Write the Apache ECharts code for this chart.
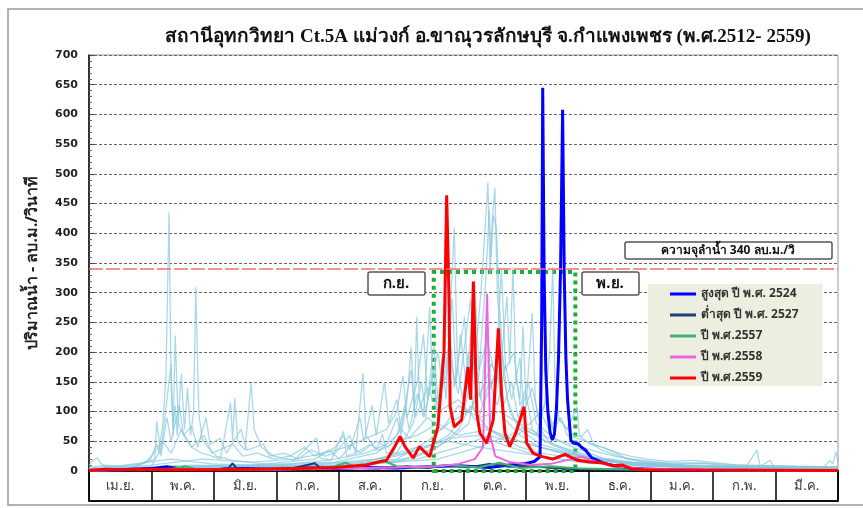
<!DOCTYPE html>
<html>
<head>
<meta charset="utf-8">
<script src="https://cdn.jsdelivr.net/npm/echarts@6.0.0/dist/echarts.min.js"></script>
<style>
  html, body { margin: 0; padding: 0; background: #fff; }
  #main { width: 863px; height: 508px; }
</style>
</head>
<body>
<div id="main"></div>
<script>
// ชื่อเดือน (ปีน้ำ เม.ย. - มี.ค.)
const months = ['เม.ย.', 'พ.ค.', 'มิ.ย.', 'ก.ค.', 'ส.ค.', 'ก.ย.', 'ต.ค.', 'พ.ย.', 'ธ.ค.', 'ม.ค.', 'ก.พ.', 'มี.ค.'];
const yMin = 0, yMax = 700, yStep = 50;
const capacity = 340;
const floodWindow = [168, 237, 335]; // วัน เริ่ม, วัน สิ้นสุด, ระดับบน

const seriesNames = ['สูงสุด ปี พ.ศ. 2524', 'ต่ำสุด ปี พ.ศ. 2527', 'ปี พ.ศ.2557', 'ปี พ.ศ.2558', 'ปี พ.ศ.2559'];

// [วันที่นับจาก 1 เม.ย., ลบ.ม./วินาที]
const max2524 = [[0,1],[15,2],[30,4],[38,7],[45,3],[60,2],[75,4],[90,3],[105,5],[120,4],[135,6],[150,5],[165,7],[180,9],[195,6],[205,10],[212,12],[217,16],[219.8,24],[220.6,250],[221.1,645],[221.8,330],[222.6,170],[223.6,100],[224.7,65],[225.8,52],[226.8,62],[227.8,105],[228.8,190],[229.8,340],[230.8,608],[231.6,330],[232.4,190],[233.2,120],[234,86],[234.8,52],[236,47],[238.3,46],[240,40],[242,35],[245,22],[251,13],[258,7],[266,4],[280,2],[300,1],[330,1],[365,1]];
const min2527 = [[0,1],[10,2],[25,1],[35,3],[42,6],[48,3],[60,2],[68,5],[70,13],[72,4],[85,3],[100,5],[110,13],[113,4],[125,6],[140,4],[155,8],[165,5],[175,10],[185,6],[195,12],[205,7],[215,9],[225,5],[240,3],[260,2],[300,1],[365,1]];
const y2557 = [[0,1],[20,2],[40,3],[47,8],[52,3],[70,2],[90,4],[110,3],[120,8],[125,14],[130,6],[143,18],[150,8],[160,5],[175,10],[190,6],[200,14],[210,5],[225,8],[240,4],[260,3],[290,2],[320,1],[365,1]];
const y2558 = [[0,1],[30,2],[60,3],[90,2],[120,4],[150,6],[170,8],[180,12],[188,20],[192,40],[194,298],[195.5,60],[198,25],[205,15],[215,10],[225,12],[235,20],[240,24],[245,18],[255,8],[270,4],[300,2],[365,1]];
const y2559 = [[0,1],[8,3],[15,2],[25,3],[40,2],[60,2],[80,3],[100,4],[120,6],[135,10],[145,18],[149,41],[151.6,58],[154,41],[158,22],[161,41],[166,24],[170,74],[173,200],[174.3,464],[175.4,300],[176,108],[178,74],[181.6,86],[184.7,175],[186,120],[187.3,319],[189,97],[190.5,64],[193.8,47],[197,86],[199.5,240],[201,131],[202.7,64],[205,41],[208,64],[212,108],[213.3,47],[216.4,30],[220,25],[226,20],[232,28],[238,18],[244,15],[250,14],[255,9],[260,10],[264,4],[270,2],[365,1]];

// ปีอื่น ๆ (พ.ศ.2512 - 2556)
const otherYears = [
  [[0,4],[15,3],[30,6],[34,30],[36,80],[37.5,160],[39,435],[40,150],[41,70],[42,110],[43,60],[45,163],[46.5,70],[48,140],[49.5,60],[51,100],[52,309],[53.5,100],[55,55],[58,40],[62,25],[70,18],[85,12],[100,10],[120,14],[140,20],[160,35],[175,55],[190,60],[205,40],[220,25],[240,14],[270,8],[300,5],[365,4]],
  [[0,10],[2,18],[4,22],[6,12],[9,5],[20,4],[32,20],[33,84],[35,30],[40,180],[41,60],[42,228],[43.5,80],[47,55],[50,40],[55,30],[60,25],[64,20],[69,115],[70,50],[71,123],[72.5,50],[76,35],[79,148],[80.5,70],[84,40],[90,25],[100,18],[111,56],[112.5,22],[118,18],[124,67],[125.5,25],[130,30],[133.5,165],[135,60],[140,35],[143,62],[145,30],[150,30],[160,40],[175,50],[190,40],[210,30],[230,20],[250,12],[280,8],[320,6],[365,5]],
  [[0,2],[40,20],[60,12],[90,8],[120,20],[135,30],[145,45],[150,90],[152,60],[155,120],[157,209],[158.5,100],[159.7,260],[161,120],[163,90],[166,276],[167.5,140],[170,110],[172,190],[174,120],[178,411],[179.5,180],[182,120],[185,200],[187,110],[190,90],[195,70],[200,60],[210,40],[220,30],[240,20],[270,10],[300,6],[365,4]],
  [[0,3],[50,10],[100,8],[130,15],[150,25],[165,40],[175,60],[182,90],[186,150],[189,220],[191,300],[192.5,380],[194.4,486],[195.5,330],[196.5,420],[197.8,476],[199,300],[200,250],[202,180],[204,120],[207,90],[212,70],[218,60],[225,45],[232,35],[240,25],[250,18],[265,10],[290,6],[320,4],[365,3]],
  [[0,2],[60,8],[120,10],[150,20],[165,50],[175,80],[185,100],[192,140],[196,180],[200,150],[203.7,293],[205,180],[206.6,343],[208,160],[210,120],[211.5,243],[213,110],[216,266],[217.5,120],[220,70],[224,50],[230,40],[240,30],[255,15],[280,8],[320,5],[365,3]],
  [[0,3],[60,6],[120,8],[160,20],[180,40],[195,60],[205,50],[212,70],[218,60],[222,110],[224.5,200],[226,343],[227,150],[229,90],[233,70],[237.8,108],[239,60],[244,45],[250,40],[257,30],[262,20],[270,15],[285,12],[300,13],[308,10],[320,6],[325.5,35],[327,8],[332,18],[334,6],[345,4],[358,6],[361,18],[362.5,12],[364,32],[365,15]],
  [[0,2],[70,5],[130,10],[150,30],[158,80],[162,150],[164,100],[168,170],[170,90],[176,230],[178,140],[183,260],[185,130],[188,200],[191,120],[194,250],[196,140],[200,200],[202,110],[206,150],[209,90],[213,130],[216,70],[222,50],[230,40],[245,20],[270,10],[320,5],[365,3]],
  [[0,2],[90,5],[140,12],[160,25],[175,50],[185,80],[190,160],[192,260],[193.5,330],[195,440],[196,360],[197,430],[198.5,410],[200,280],[202,160],[205,100],[210,70],[220,45],[235,30],[250,20],[275,10],[320,6],[365,3]],
  [[0,3],[30,10],[55,20],[80,15],[100,20],[115,30],[125,40],[135,55],[145,70],[150,100],[153,160],[155,90],[160,150],[163,230],[165,120],[170,200],[172,150],[175,330],[176.5,180],[180,130],[186,290],[188,150],[192,110],[199,170],[202,90],[210,60],[220,40],[240,25],[265,14],[300,8],[340,6],[365,5]],
  [[0,5],[10,8],[20,6],[28,15],[36,50],[40,30],[45,70],[50,40],[56,60],[60,30],[70,45],[75,25],[82,30],[90,20],[98,25],[105,40],[110,25],[117,35],[122,20],[128,45],[132,30],[140,50],[146,40],[152,70],[156,55],[165,90],[172,70],[180,110],[190,90],[200,100],[210,80],[220,60],[230,50],[240,40],[250,30],[260,22],[280,14],[300,13],[320,10],[340,8],[365,7]],
  [[0,3],[60,8],[120,15],[140,30],[150,60],[154,110],[156,70],[160,130],[164,90],[168,210],[170,120],[174,160],[177,290],[179,150],[181,230],[184,140],[188,320],[190,170],[194,220],[198,160],[201,340],[203,170],[207,200],[210,110],[214,150],[218,80],[225,60],[232,45],[240,35],[250,22],[270,12],[300,8],[365,5]],
  [[0,2],[100,6],[150,15],[170,40],[180,70],[186,110],[190,90],[195,150],[199,110],[203,180],[206,120],[210,190],[212,100],[216,140],[219,90],[223,120],[226,70],[230,90],[233,60],[238,55],[244,48],[250,35],[258,25],[270,16],[290,10],[320,7],[365,5]],
  [[0,6],[8,10],[15,8],[25,12],[30,20],[33,45],[35,25],[38,90],[40,50],[44,110],[46,60],[50,75],[53,40],[57,90],[59,45],[64,55],[67,30],[74,70],[77,35],[85,45],[88,25],[95,30],[102,20],[108,35],[115,25],[120,30],[127,60],[130,30],[137,45],[142,35],[150,50],[160,60],[170,80],[180,60],[195,70],[210,50],[225,35],[240,25],[260,15],[290,10],[330,8],[365,6]],
  [[0,2],[80,10],[110,20],[120,40],[124,60],[127,35],[132,90],[134,50],[138,110],[140,60],[144,150],[146,80],[150,120],[152,70],[157,170],[159,90],[165,140],[170,100],[180,120],[190,80],[200,60],[215,45],[230,30],[250,18],[280,10],[320,6],[365,4]],
  [[0,3],[120,8],[170,20],[190,40],[205,60],[215,80],[220,100],[224,70],[228,90],[232,75],[236,60],[240,58],[243,70],[246,45],[252,38],[258,30],[264,25],[272,20],[282,16],[295,18],[305,14],[315,10],[330,9],[345,8],[365,7]]
];

const thai = '"Noto Sans", "DejaVu Sans", sans-serif';
const chart = echarts.init(document.getElementById('main'));

let series = otherYears.map(function (d) {
  return {
    type: 'line', data: d, symbol: 'none', silent: true, z: 1,
    lineStyle: { color: 'rgba(135,200,222,0.7)', width: 1.3 }
  };
});

const named = [
  { data: max2524, color: '#0000ff', width: 3 },
  { data: min2527, color: '#1f3b7a', width: 2 },
  { data: y2557, color: '#3cb46e', width: 2 },
  { data: y2558, color: '#ee66dd', width: 2 },
  { data: y2559, color: '#ff0000', width: 3 }
];
named.forEach(function (s, i) {
  series.push({
    name: seriesNames[i], type: 'line', data: s.data, symbol: 'none', z: 3,
    lineStyle: { color: s.color, width: s.width }, itemStyle: { color: s.color }
  });
});

// เส้นความจุลำน้ำ + กรอบช่วงน้ำหลาก
series.push({
  type: 'line', data: [], z: 4, silent: true,
  markLine: {
    symbol: 'none', silent: true, label: { show: false },
    lineStyle: { color: '#f07070', width: 1.5, type: [14, 3] },
    data: [{ yAxis: capacity }]
  },
  markArea: {
    silent: true,
    itemStyle: { color: 'rgba(0,0,0,0)', borderColor: '#1fae3c', borderWidth: 4, borderType: [4, 4] },
    data: [[{ xAxis: floodWindow[0], yAxis: 0 }, { xAxis: floodWindow[1], yAxis: floodWindow[2] }]]
  }
});

chart.setOption({
  backgroundColor: '#fff',
  animation: false,
  title: {
    text: 'สถานีอุทกวิทยา Ct.5A แม่วงก์ อ.ขาณุวรลักษบุรี จ.กำแพงเพชร (พ.ศ.2512- 2559)',
    left: 483, top: 23, textAlign: 'center',
    textStyle: { fontFamily: '"Liberation Serif", "DejaVu Serif", serif', fontWeight: 'bold', fontSize: 19, color: '#111' }
  },
  legend: {
    data: seriesNames, orient: 'vertical', left: 648, top: 284,
    backgroundColor: '#eceedf', padding: [3, 24, 1, 22],
    icon: 'rect', itemWidth: 26, itemHeight: 3, itemGap: 7,
    textStyle: { fontFamily: thai, fontSize: 12, lineHeight: 14, color: '#333', fontWeight: 'bold' }
  },
  grid: [
    { left: 89, right: 25, top: 55, bottom: 37, show: true, borderColor: '#999', borderWidth: 1 },
    { left: 89, right: 25, top: 471, height: 30, show: true, borderColor: '#000', borderWidth: 1.5 }
  ],
  xAxis: [
    {
      type: 'value', min: 0, max: 365, gridIndex: 0,
      axisLine: { show: true, lineStyle: { color: '#000', width: 1.5 } },
      axisTick: { show: false }, axisLabel: { show: false }, splitLine: { show: false }
    },
    {
      type: 'category', data: months, gridIndex: 1, position: 'top', boundaryGap: true,
      axisLine: { show: true, lineStyle: { color: '#000', width: 1.5 } },
      axisTick: { show: false },
      splitLine: { show: true, lineStyle: { color: '#000', width: 1.5 } },
      axisLabel: { inside: true, margin: 9, fontFamily: thai, fontSize: 13, color: '#333', verticalAlign: 'top' }
    }
  ],
  yAxis: [
    {
      type: 'value', min: yMin, max: yMax, interval: yStep, gridIndex: 0,
      name: 'ปริมาณน้ำ - ลบ.ม./วินาที', nameLocation: 'middle', nameGap: 49,
      nameTextStyle: { fontFamily: thai, fontSize: 16, fontWeight: 'bold', color: '#222' },
      axisLine: { show: true, lineStyle: { color: '#000', width: 1.5 } },
      axisTick: { show: true, inside: true, length: 5, lineStyle: { color: '#444' } },
      minorTick: { show: true, splitNumber: 5, length: 3, lineStyle: { color: '#666' } },
      axisLabel: { fontFamily: '"DejaVu Sans", sans-serif', fontWeight: 'bold', fontSize: 11, color: '#222', margin: 11 },
      splitLine: { show: true, lineStyle: { color: '#666', type: [3, 2], width: 1 } }
    },
    {
      type: 'value', gridIndex: 1, show: false
    }
  ],
  graphic: [
    { type: 'rect', shape: { x: 8, y: 9, width: 900, height: 496 }, style: { fill: 'none', stroke: '#999', lineWidth: 1.5 }, silent: true, z: -10 },
    { type: 'rect', shape: { x: 625, y: 242, width: 207, height: 17, r: 2 }, style: { fill: '#fff', stroke: '#555', lineWidth: 1.5 }, z: 20 },
    { type: 'text', x: 728, y: 251, style: { text: 'ความจุลำน้ำ 340 ลบ.ม./วิ', font: 'bold 12px ' + thai, fill: '#111', align: 'center', verticalAlign: 'middle' }, z: 21 },
    { type: 'rect', shape: { x: 368, y: 272, width: 57, height: 23, r: 2 }, style: { fill: '#fff', stroke: '#555', lineWidth: 1.5 }, z: 20 },
    { type: 'text', x: 396, y: 284, style: { text: 'ก.ย.', font: 'bold 15px ' + thai, fill: '#111', align: 'center', verticalAlign: 'middle' }, z: 21 },
    { type: 'rect', shape: { x: 582, y: 272, width: 57, height: 23, r: 2 }, style: { fill: '#fff', stroke: '#555', lineWidth: 1.5 }, z: 20 },
    { type: 'text', x: 610, y: 284, style: { text: 'พ.ย.', font: 'bold 15px ' + thai, fill: '#111', align: 'center', verticalAlign: 'middle' }, z: 21 }
  ],
  series: series
});
</script>
</body>
</html>
